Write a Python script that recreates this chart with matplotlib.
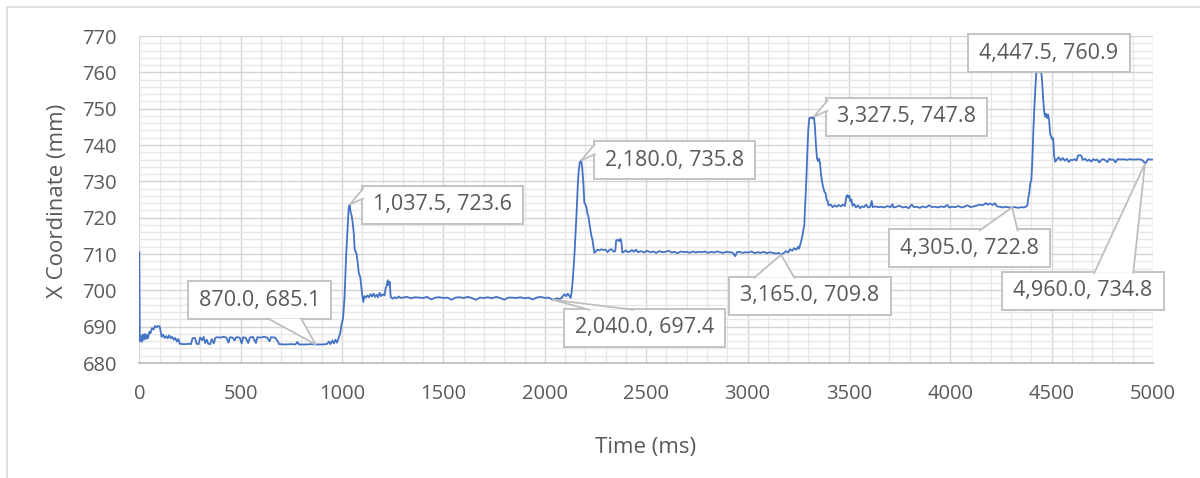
import matplotlib
matplotlib.use('Agg')
import matplotlib.pyplot as plt
from matplotlib.patches import Rectangle, Polygon
from matplotlib.lines import Line2D
from matplotlib.ticker import MultipleLocator
from matplotlib.transforms import IdentityTransform

plt.rcParams['font.family'] = ['Open Sans', 'DejaVu Sans']

# time stamps (ms) and tracked x position (mm)
t_ms = [
    0, 2.5, 7.5, 12.5, 17.5, 22.5, 27.5, 32.5, 37.5, 42.5, 50, 55, 62.5, 70, 77.5, 85, 92.5, 100, 105, 110,
    117.5, 125, 132.5, 140, 147.5, 155, 162.5, 170, 177.5, 185, 192.5, 200, 215, 230, 245, 255, 262.5, 275,
    282.5, 292.5, 300, 310, 317.5, 325, 332.5, 340, 350, 357.5, 367.5, 375, 385, 400, 415, 430, 440, 447.5,
    460, 470, 477.5, 495, 505, 512.5, 525, 537.5, 545, 560, 575, 582.5, 600, 615, 630, 642.5, 650, 670, 680,
    690, 720, 750, 770, 780, 787.5, 820, 850, 870, 900, 925, 935, 942.5, 952.5, 960, 967.5, 975, 982.5, 990,
    997.5, 1005, 1012.5, 1020, 1027.5, 1032.5, 1037.5,
    1042.5, 1047.5, 1052.5, 1057.5, 1062.5, 1067.5, 1072.5, 1077.5, 1082.5, 1090, 1095, 1100, 1105, 1110,
    1117.5, 1125, 1132.5, 1140, 1147.5, 1155, 1162.5, 1170, 1177.5, 1185, 1192.5, 1200, 1210, 1215, 1220,
    1225, 1230, 1235, 1240, 1250, 1260, 1270, 1280, 1290, 1300, 1320, 1340, 1360, 1380, 1400, 1420, 1440,
    1460, 1480, 1500, 1520, 1540, 1560, 1580, 1600, 1620, 1640, 1660, 1680, 1700, 1720, 1740, 1760, 1780,
    1800, 1820, 1840, 1860, 1880, 1900, 1920, 1940, 1960, 1980, 2000, 2020, 2040, 2060, 2075, 2085, 2095,
    2105, 2112.5, 2120, 2127.5, 2132.5, 2137.5, 2142.5, 2147.5, 2152.5, 2157.5, 2162.5, 2167.5, 2172.5, 2180,
    2185, 2190, 2195, 2200, 2205, 2210, 2215, 2220, 2225, 2230, 2235, 2240, 2245, 2250, 2260, 2270, 2280,
    2290, 2300, 2310, 2320, 2330, 2340, 2347.5, 2352.5, 2360, 2367.5, 2372.5, 2377.5, 2382.5, 2390, 2400,
    2410, 2420, 2430, 2440, 2450, 2460, 2475, 2490, 2505, 2520, 2535, 2550, 2565, 2580, 2595, 2610, 2625,
    2640, 2655, 2670, 2685, 2700, 2715, 2730, 2745, 2760, 2775, 2790, 2805, 2820, 2835, 2850, 2865, 2880,
    2895, 2910, 2925, 2940, 2947.5, 2960, 2975, 2990, 3005, 3020, 3035, 3050, 3065, 3080, 3095, 3110, 3125,
    3140, 3155, 3165, 3180, 3190, 3200, 3210, 3220, 3230, 3240, 3250, 3255, 3260, 3265, 3270, 3275, 3280,
    3285, 3290, 3295, 3300, 3305, 3312.5, 3320, 3327.5,
    3332.5, 3337.5, 3342.5, 3347.5, 3352.5, 3357.5, 3362.5, 3367.5, 3372.5, 3380, 3385, 3390, 3395, 3400,
    3410, 3420, 3430, 3440, 3450, 3460, 3470, 3480, 3487.5, 3492.5, 3497.5, 3502.5, 3507.5, 3512.5, 3517.5,
    3525, 3535, 3545, 3555, 3565, 3575, 3585, 3595, 3605, 3612.5, 3617.5, 3630, 3645, 3660, 3675, 3690, 3705,
    3715, 3720, 3735, 3750, 3765, 3780, 3795, 3810, 3820, 3835, 3850, 3865, 3880, 3895, 3910, 3925, 3940,
    3955, 3970, 3985, 3995, 4010, 4025, 4040, 4055, 4070, 4085, 4100, 4115, 4130, 4145, 4160, 4175, 4185,
    4195, 4210, 4220, 4230, 4245, 4260, 4275, 4290, 4305, 4320, 4335, 4350, 4362.5, 4372.5, 4380, 4385,
    4390, 4395, 4400, 4405, 4410, 4415, 4420, 4425, 4432.5, 4440, 4447.5,
    4452.5, 4457.5, 4462.5, 4467.5, 4472.5, 4477.5, 4482.5, 4487.5, 4492.5, 4497.5, 4502.5, 4507.5, 4512.5,
    4517.5, 4525, 4535, 4545, 4555, 4565, 4575, 4585, 4592.5, 4602.5, 4612.5, 4622.5, 4630, 4640, 4647.5,
    4652.5, 4665, 4675, 4685, 4695, 4705, 4715, 4725, 4735, 4745, 4755, 4765, 4775, 4785, 4795, 4805, 4815,
    4825, 4840, 4855, 4870, 4885, 4900, 4915, 4930, 4945, 4955, 4960, 4967.5, 4975, 4985, 4995,
]
x_mm = [
    710.5, 686.0, 687.5, 685.8, 687.8, 686.4, 688.0, 686.6, 687.8, 686.8, 688.6, 688.2, 689.6, 689.2, 690.2,
    689.8, 690.2, 690.1, 688.8, 687.2, 687.8, 686.9, 687.4, 686.8, 687.6, 686.8, 687.2, 686.4, 686.9, 685.9,
    686.6, 685.3, 685.2, 685.2, 685.3, 685.2, 686.8, 686.9, 685.3, 685.2, 687.0, 686.3, 687.2, 685.5, 686.4,
    685.3, 685.2, 686.6, 685.4, 686.9, 687.1, 687.0, 687.2, 687.0, 685.6, 687.1, 687.0, 686.2, 687.1, 687.0,
    685.4, 687.1, 686.9, 685.5, 687.0, 687.2, 685.5, 687.1, 687.0, 687.2, 687.0, 686.0, 687.1, 687.0, 686.2,
    685.2, 685.1, 685.2, 685.1, 685.8, 685.1, 685.1, 685.2, 685.1, 685.1, 685.2, 685.9, 685.2, 686.2, 685.4,
    686.4, 685.6, 686.8, 688.0, 690.5, 692.3, 698.2, 709.3, 717.0, 722.5, 723.6,
    721.5, 720.5, 718.6, 716.0, 711.2, 710.6, 709.8, 707.5, 704.8, 703.6, 701.0, 698.5, 696.8, 698.4, 698.0,
    698.6, 698.1, 698.9, 698.3, 699.1, 698.2, 698.8, 698.1, 699.3, 698.4, 698.9, 698.6, 700.6, 701.2, 702.8,
    701.4, 702.4, 698.2, 697.7, 698.1, 697.8, 698.3, 697.9, 698.0, 698.2, 697.8, 698.1, 698.0, 697.9, 698.2,
    697.5, 698.0, 698.1, 697.9, 698.0, 697.4, 698.0, 698.1, 697.9, 698.2, 697.9, 697.4, 698.0, 697.9, 698.1,
    697.8, 698.2, 697.9, 697.4, 698.0, 698.0, 697.9, 698.1, 697.8, 698.0, 697.5, 698.0, 698.2, 697.9, 698.0,
    697.4, 697.8, 697.6, 698.0, 698.9, 698.4, 699.1, 698.6, 697.9, 699.5, 702.5, 706.5, 711.0, 716.5, 722.0,
    728.5, 733.0, 735.2, 735.8,
    733.5, 729.8, 724.2, 723.6, 723.0, 721.2, 720.4, 718.5, 716.6, 715.0, 714.0, 712.0, 710.3, 710.6, 711.2,
    711.0, 711.3, 711.1, 711.2, 710.5, 711.2, 711.3, 710.6, 710.8, 713.8, 713.9, 713.5, 714.2, 713.6, 710.4,
    710.6, 711.0, 710.5, 710.7, 711.1, 710.6, 711.2, 710.5, 710.8, 710.4, 710.9, 710.5, 710.7, 710.3, 710.8,
    710.5, 710.6, 710.9, 710.4, 710.6, 710.2, 710.7, 710.5, 710.6, 710.3, 710.7, 710.4, 710.6, 710.5, 710.7,
    710.3, 710.6, 710.4, 710.7, 710.5, 710.3, 710.6, 710.5, 710.4, 709.4, 710.5, 710.6, 710.3, 710.5, 710.4,
    710.7, 710.2, 710.5, 710.3, 710.6, 710.2, 710.5, 710.3, 710.1, 710.3, 709.8, 710.3, 710.8, 710.4, 711.3,
    710.9, 711.6, 711.2, 712.0, 711.5, 712.5, 713.6, 714.8, 716.5, 718.0, 724.0, 730.4, 738.0, 744.5, 747.4,
    747.6, 747.3, 747.8,
    745.0, 740.0, 736.4, 735.6, 736.2, 735.0, 731.8, 730.0, 728.5, 727.0, 726.8, 725.0, 724.6, 723.4, 723.6,
    722.9, 723.4, 723.0, 723.5, 723.1, 723.6, 723.2, 725.8, 726.2, 725.5, 726.0, 724.5, 725.0, 723.3, 723.8,
    722.8, 723.4, 722.6, 723.1, 722.9, 723.6, 722.8, 723.0, 724.6, 722.9, 723.1, 722.9, 723.0, 722.8, 723.2,
    722.9, 723.7, 722.8, 723.0, 723.3, 722.8, 723.0, 722.6, 723.6, 722.9, 723.0, 722.7, 723.1, 722.8, 723.4,
    722.9, 723.0, 722.8, 723.1, 722.9, 723.5, 722.8, 723.0, 722.9, 723.2, 722.8, 723.0, 723.4, 722.9, 723.1,
    723.3, 723.6, 723.4, 724.0, 723.6, 723.9, 723.5, 724.0, 723.1, 723.0, 722.8, 723.0, 722.8, 722.8, 722.9,
    722.7, 722.9, 722.8, 723.0, 723.4, 725.5, 727.0, 729.5, 730.4, 736.0, 744.1, 750.5, 756.0, 760.3, 760.6,
    760.0, 760.9,
    758.0, 753.3, 749.5, 747.8, 748.6, 747.4, 748.4, 746.9, 743.0, 742.3, 741.6, 741.9, 737.0, 735.4, 735.9,
    736.6, 735.8, 736.4, 735.7, 736.2, 735.3, 735.9, 735.8, 736.1, 735.7, 737.1, 737.2, 737.0, 735.9, 736.2,
    735.6, 736.0, 735.4, 736.1, 735.8, 736.0, 735.2, 735.9, 736.1, 735.8, 735.3, 736.2, 735.9, 736.0, 735.2,
    736.1, 736.0, 736.1, 735.9, 736.1, 736.0, 736.0, 736.1, 735.9, 735.4, 734.8, 735.3, 736.1, 736.0, 736.0,
]

# labelled samples and where each callout box sits (pixel offset of box centre from the point)
label_t = [870, 1037.5, 2040, 2180, 3165, 3327.5, 4305, 4447.5, 4960]
box_dx = [-56, 93, 92, 93, 29, 93, -43, 8, -62]
box_dy = [44, 0, -28, 0, -41, 0, -41, 16, -127]
# side of the box the pointer leaves from, and the two base offsets along it
wedge_side = ['bottom', 'left', 'top', 'left', 'top', 'left', 'top', None, 'top']
wedge_base = [(80, 113), (3, 13), (25, 69), (3, 13), (25, 65), (3, 13), (91, 129), None, (92, 131)]

text_grey = '#595959'
edge_grey = '#BFBFBF'

fig = plt.figure(figsize=(12, 4.78), dpi=100)
W, H = 1200, 478
ax = fig.add_axes([139.3 / W, 1 - 363 / H, (1153 - 139.3) / W, (363 - 36) / H])

ax.plot(t_ms, x_mm, color='#4472C4', lw=1.3, zorder=3)

ax.set_xlim(0, 5000)
ax.set_ylim(680, 770)
ax.xaxis.set_major_locator(MultipleLocator(500))
ax.xaxis.set_minor_locator(MultipleLocator(100))
ax.yaxis.set_major_locator(MultipleLocator(10))
ax.yaxis.set_minor_locator(MultipleLocator(2))
ax.grid(which='major', color='#D4D4D4', lw=1.0, zorder=1)
ax.grid(which='minor', color='#E8E8E8', lw=1.0, zorder=0)
ax.set_axisbelow(True)
for s in ['top', 'right', 'left']:
    ax.spines[s].set_visible(False)
ax.spines['bottom'].set_color(edge_grey)
ax.spines['bottom'].set_linewidth(1.3)
ax.tick_params(which='both', length=0, labelsize=14.5, labelcolor=text_grey)
ax.tick_params(axis='x', pad=15)
ax.tick_params(axis='y', pad=16)

fig.text(646 / W, 1 - 448 / H, 'Time (ms)', ha='center', va='center', fontsize=16, color=text_grey)
fig.text(58 / W, 1 - 201 / H, 'X Coordinate (mm)', ha='center', va='center', rotation=90,
         fontsize=16, color=text_grey)

# outer chart frame
fig.add_artist(Rectangle((6.7 / W, -0.1), 1.2, 1 - 6.7 / H + 0.1, transform=fig.transFigure,
                         fill=False, ec='#D9D9D9', lw=1.2))

# data callouts
renderer = fig.canvas.get_renderer()
ident = IdentityTransform()
for i, t in enumerate(label_t):
    v = x_mm[t_ms.index(t)]
    px, py = ax.transData.transform((t, v))
    cx, cy = px + box_dx[i], py + box_dy[i]
    txt = fig.text(cx, cy, f'{t:,.1f}, {v:,.1f}', transform=ident, ha='center', va='center',
                   fontsize=15.5, color=text_grey, zorder=7)
    bb = txt.get_window_extent(renderer)
    w = bb.width + 22
    h = 38
    x0, y0 = cx - w / 2, cy - h / 2
    fig.add_artist(Rectangle((x0, y0), w, h, transform=ident, fc='white', ec=edge_grey, lw=1.3, zorder=5))
    side = wedge_side[i]
    if side is None:
        continue
    a, b = wedge_base[i]
    if side == 'bottom':
        p0, p1 = (x0 + a, y0 + 1), (x0 + b, y0 + 1)
    elif side == 'top':
        p0, p1 = (x0 + a, y0 + h - 1), (x0 + b, y0 + h - 1)
    else:
        p0, p1 = (x0 + 1, y0 + h - a), (x0 + 1, y0 + h - b)
    fig.add_artist(Polygon([p0, (px, py), p1], closed=True, transform=ident, fc='white', ec='none', zorder=6))
    fig.add_artist(Line2D([p0[0], px, p1[0]], [p0[1], py, p1[1]], transform=ident,
                          color=edge_grey, lw=1.3, zorder=6))

fig.savefig('out.png', dpi=100)
